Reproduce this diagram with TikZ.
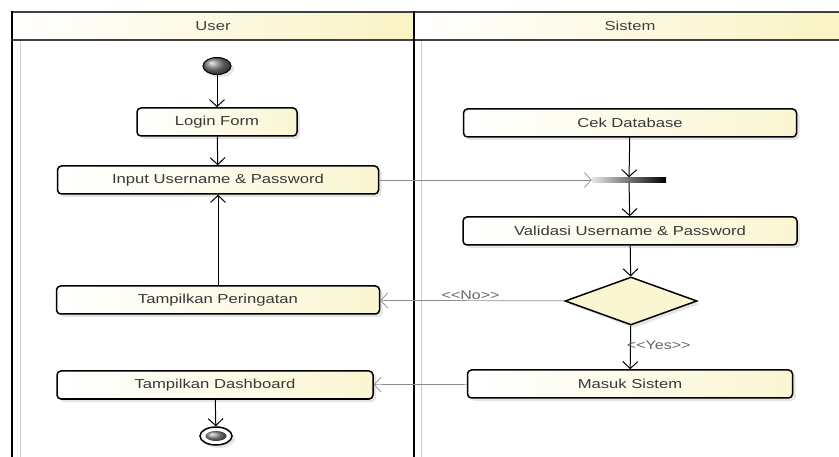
\documentclass[tikz,border=0pt]{standalone}
\usepackage{fontspec}
\setmainfont[FakeStretch=1.28]{Liberation Sans}
\usetikzlibrary{arrows.meta,shapes.geometric,shadows}
\definecolor{actyellow}{RGB}{250,246,210}
\definecolor{laneyellow}{RGB}{250,243,196}
\newcommand{\stereo}[1]{<\kern0pt<#1>\kern0pt>}
\tikzset{
  act/.style={draw, line width=1.5pt, rounded corners=4pt, inner sep=0pt,
    minimum height=28pt, left color=white, right color=actyellow,
    drop shadow={opacity=0.2, shadow xshift=3pt, shadow yshift=-3pt},
    font=\fontsize{13}{15}\selectfont, text=black!78},
  flow/.style={line width=1pt, -{Straight Barb[length=7pt,width=15pt]}},
  crossflow/.style={flow, draw=black!45, line width=0.7pt},
  guard/.style={font=\fontsize{12.5}{14}\selectfont, text=black!60, inner sep=1pt},
  lanehead/.style={font=\fontsize{13}{15}\selectfont, text=black!75},
}
\begin{document}
\begin{tikzpicture}[x=1pt,y=-1pt]
\useasboundingbox[fill=white] (0,0) rectangle (839,457);
% swimlanes
\begin{scope}
\shade[left color=white, right color=laneyellow] (12,12) rectangle (414,40);
\shade[left color=white, right color=laneyellow] (414,12) rectangle (839,40);
\draw[black!20, line width=1pt] (20,41) -- (20,457) (421,41) -- (421,457);
\draw[black!75, line width=1.5pt] (12,12) -- (839,12) (12,40) -- (839,40);
\draw[line width=2.5pt] (12,11) -- (12,457) (414,11) -- (414,457);
\node[lanehead] (userlane) at (213,26) {User};
\node[lanehead] (sistemlane) at (630,26) {Sistem};
\end{scope}
% user lane
\node[ellipse, draw, line width=1pt, ball color=black!50, minimum width=28pt, minimum height=17pt,
  drop shadow={opacity=0.2, shadow xshift=3pt, shadow yshift=-3pt}] (start) at (217,66) {};
\node[act, minimum width=160pt] (loginform) at (217,122) {Login Form};
\node[act, minimum width=321pt] (inputuser) at (218,180) {Input Username \& Password};
\node[act, minimum width=323pt] (peringatan) at (218,300) {Tampilkan Peringatan};
\node[act, minimum width=316pt] (dashboard) at (215,385) {Tampilkan Dashboard};
\node[ellipse, draw, line width=1.5pt, fill=white, minimum width=32pt, minimum height=18pt,
  drop shadow={opacity=0.2, shadow xshift=3pt, shadow yshift=-3pt}] (end) at (216,436) {};
\node[ellipse, ball color=black!45, minimum width=21pt, minimum height=10pt] (endcore) at (end) {};
% sistem lane
\node[act, minimum width=333pt] (cekdb) at (630,123) {Cek Database};
\node[minimum width=74pt, minimum height=5pt, inner sep=0pt, left color=black!10, right color=black] (join) at (629,180) {};
\node[act, minimum width=334pt] (validasi) at (630,231) {Validasi Username \& Password};
\node[diamond, draw, line width=1.5pt, fill=actyellow, inner sep=0pt, minimum width=132pt, minimum height=48pt,
  drop shadow={opacity=0.2, shadow xshift=3pt, shadow yshift=-3pt}] (cekvalid) at (631,301) {};
\node[act, minimum width=325pt] (masuk) at (630,384) {Masuk Sistem};
% flows
\draw[flow] (start) -- (loginform);
\draw[flow] (loginform) -- (inputuser);
\draw[flow] (peringatan) -- (inputuser);
\draw[crossflow] (inputuser) -- (join);
\draw[flow] (cekdb) -- (join);
\draw[flow] (join) -- (validasi);
\draw[flow] (validasi) -- (cekvalid);
\draw[crossflow] (cekvalid) -- node[guard, above, pos=0.51] {\stereo{No}} (peringatan);
\draw[flow] (cekvalid) -- node[guard, anchor=west, xshift=-5pt, pos=0.45] {\stereo{Yes}} (masuk);
\draw[crossflow] (masuk) -- (dashboard);
\draw[flow] (dashboard) -- (end);
\end{tikzpicture}
\end{document}
